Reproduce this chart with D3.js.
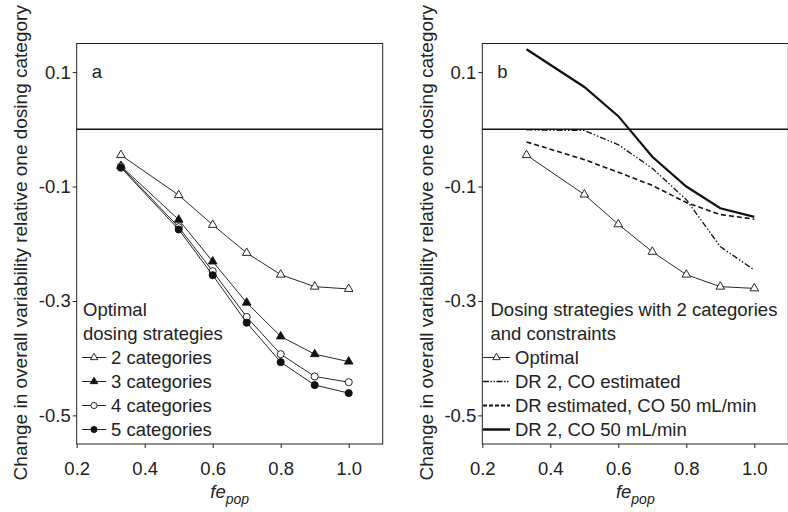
<!DOCTYPE html>
<html>
<head>
<meta charset="utf-8">
<script src="https://cdn.jsdelivr.net/npm/d3@7"></script>
<style>
  html, body { margin: 0; padding: 0; background: #fff; }
  svg { display: block; font-family: "Liberation Sans", Arial, Helvetica, sans-serif; }
</style>
</head>
<body>
<svg id="chart" width="788" height="512"></svg>
<script>
// ---- data ----
const xVals = [0.33, 0.5, 0.6, 0.7, 0.8, 0.9, 1.0];
const cat2 = [-0.045, -0.115, -0.167, -0.216, -0.254, -0.275, -0.279];
const cat3 = [-0.064, -0.158, -0.231, -0.303, -0.362, -0.393, -0.406];
const cat4 = [-0.065, -0.171, -0.248, -0.328, -0.393, -0.432, -0.442];
const cat5 = [-0.067, -0.175, -0.255, -0.338, -0.407, -0.447, -0.461];
const optimal = [-0.045, -0.114, -0.166, -0.214, -0.254, -0.275, -0.278];
const dr2CoEst = [-0.001, -0.002, -0.027, -0.068, -0.123, -0.205, -0.246];
const drEstCo50 = [-0.022, -0.053, -0.075, -0.098, -0.128, -0.149, -0.157];
const dr2Co50 = [0.140, 0.074, 0.023, -0.048, -0.100, -0.138, -0.153];

const xTicks = [0.2, 0.4, 0.6, 0.8, 1.0];
const yTicks = [0.1, -0.1, -0.3, -0.5];
const yTitle = "Change in overall variability relative one dosing category";
const legendATitle = ["Optimal", "dosing strategies"];
const legendALabels = ["2 categories", "3 categories", "4 categories", "5 categories"];
const legendBTitle = ["Dosing strategies with 2 categories", "and constraints"];
const legendBLabels = ["Optimal", "DR 2, CO estimated", "DR estimated, CO 50 mL/min", "DR 2, CO 50 mL/min"];

// ---- drawing ----
const svg = d3.select("#chart");
const FS = 18.5;
const yDomain = [-0.55, 0.15];
const xDomain = [0.2, 1.1];
const plotTop = 43.5, plotBottom = 444;

function panel(left, right, label, series, legendTitle, legendItems, legX) {
  const x = d3.scaleLinear().domain(xDomain).range([left, right]);
  const y = d3.scaleLinear().domain(yDomain).range([plotBottom, plotTop]);
  const g = svg.append("g");

  // frame
  g.append("rect").attr("x", left).attr("y", plotTop)
    .attr("width", right - left).attr("height", plotBottom - plotTop)
    .attr("fill", "none").attr("stroke", "#222").attr("stroke-width", 1);

  // zero line
  g.append("line").attr("x1", left).attr("x2", right)
    .attr("y1", y(0)).attr("y2", y(0))
    .attr("stroke", "#111").attr("stroke-width", 1.6);

  // axes
  const xa = g.append("g").attr("transform", `translate(0,${plotBottom})`)
    .call(d3.axisBottom(x).tickValues(xTicks).tickSize(4).tickPadding(14)
      .tickFormat(d => d.toFixed(1)));
  const ya = g.append("g").attr("transform", `translate(${left},0)`)
    .call(d3.axisLeft(y).tickValues(yTicks).tickSize(4).tickPadding(2)
      .tickFormat(d => d.toFixed(1)));
  [xa, ya].forEach(a => {
    a.select(".domain").remove();
    a.selectAll("text").attr("font-size", FS).attr("fill", "#222")
      .attr("font-family", '"Liberation Sans", Arial, Helvetica, sans-serif');
    a.selectAll("line").attr("stroke", "#222");
  });

  // y title
  g.append("text")
    .attr("transform", `translate(${left - 49.5},${(plotTop + plotBottom) / 2 - 1}) rotate(-90)`)
    .attr("text-anchor", "middle").attr("font-size", 19).attr("fill", "#222")
    .text(yTitle);

  // x title
  const xt = g.append("text").attr("x", (left + right) / 2).attr("y", 497.5)
    .attr("text-anchor", "middle").attr("fill", "#222");
  xt.append("tspan").attr("font-style", "italic").attr("font-size", FS).text("fe");
  xt.append("tspan").attr("font-style", "italic").attr("font-size", 14).attr("dy", 6).text("pop");

  // panel label
  g.append("text").attr("x", left + 15).attr("y", 78).attr("font-size", FS)
    .attr("fill", "#222").text(label);

  const line = d3.line().x((d, i) => x(xVals[i])).y(d => y(d));

  series.forEach(s => {
    g.append("path").datum(s.values).attr("d", line)
      .attr("fill", "none").attr("stroke", "#111")
      .attr("stroke-width", s.width).attr("stroke-dasharray", s.dash || null);
    if (s.symbol) {
      g.selectAll(null).data(s.values).enter().append("path")
        .attr("transform", (d, i) => `translate(${x(xVals[i])},${y(d)})`)
        .attr("d", d3.symbol().type(s.symbol).size(s.size))
        .attr("fill", s.fill).attr("stroke", "#111").attr("stroke-width", 0.9);
    }
  });

  // legend
  const base = 316, step = 24;
  legendTitle.forEach((t, i) => {
    g.append("text").attr("x", legX.title).attr("y", base + i * step)
      .attr("font-size", FS).attr("fill", "#222").text(t);
  });
  legendItems.forEach((t, i) => {
    const yy = base + (i + 2) * step;
    const s = series[i];
    const cy = yy - 6.5;
    g.append("line").attr("x1", legX.l1).attr("x2", legX.l2)
      .attr("y1", cy).attr("y2", cy).attr("stroke", "#111")
      .attr("stroke-width", s.width + (s.symbol ? 0 : 0.3)).attr("stroke-dasharray", s.legendDash || s.dash || null);
    if (s.symbol) {
      g.append("path").attr("transform", `translate(${(legX.l1 + legX.l2) / 2},${cy})`)
        .attr("d", d3.symbol().type(s.symbol).size(s.size * 0.75))
        .attr("fill", s.fill).attr("stroke", "#111").attr("stroke-width", 0.9);
    }
    g.append("text").attr("x", legX.text).attr("y", yy)
      .attr("font-size", FS).attr("fill", "#222").text(t);
  });
}

panel(76.7, 382.7, "a", [
  { values: cat2, width: 0.9, symbol: d3.symbolTriangle, size: 32, fill: "#fff" },
  { values: cat3, width: 0.9, symbol: d3.symbolTriangle, size: 32, fill: "#111" },
  { values: cat4, width: 0.9, symbol: d3.symbolCircle, size: 40, fill: "#fff" },
  { values: cat5, width: 0.9, symbol: d3.symbolCircle, size: 40, fill: "#111" }
], legendATitle, legendALabels, { title: 83, l1: 82, l2: 106, text: 111 });

panel(482.3, 788.3, "b", [
  { values: optimal, width: 0.9, symbol: d3.symbolTriangle, size: 32, fill: "#fff" },
  { values: dr2CoEst, width: 1.3, dash: "6,2,1.5,2,1.5,2", legendDash: "6,1.5,1.5,1.5,1.5,1.5" },
  { values: drEstCo50, width: 1.6, dash: "5,3", legendDash: "4,2" },
  { values: dr2Co50, width: 2.2 }
], legendBTitle, legendBLabels, { title: 490.5, l1: 483, l2: 510, text: 515 });
</script>
</body>
</html>
